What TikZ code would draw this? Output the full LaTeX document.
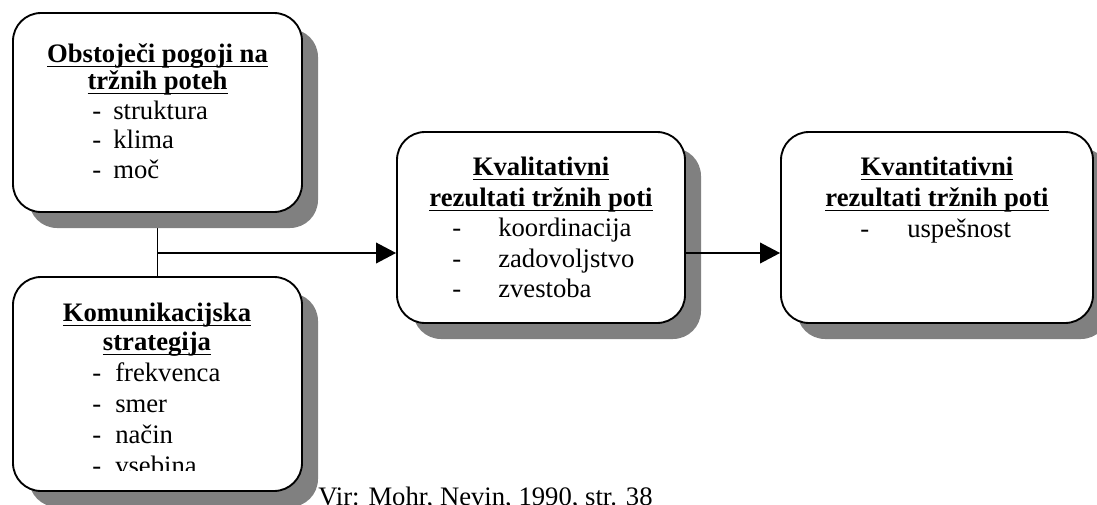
\documentclass[tikz,border=0pt]{standalone}
\usepackage{fontspec}
\setmainfont{Liberation Serif}
\usetikzlibrary{shadows,arrows.meta,backgrounds}
\definecolor{shadowgray}{RGB}{128,128,128}
% underline at a fixed depth below the baseline, through the descenders
\newcommand\ulined[1]{\setbox0\hbox{#1}\rlap{\rule[-4.1pt]{\wd0}{1.4pt}}\box0}

\begin{document}
\begin{tikzpicture}[x=0.75pt,y=-0.75pt,
  panel/.style={draw=black, line width=1.4pt, fill=white, rounded corners=21pt,
    inner sep=0pt,
    drop shadow={shadow xshift=12pt, shadow yshift=-12pt, fill=shadowgray, opacity=1}},
  head/.style={anchor=base, inner sep=0pt, font=\fontsize{20pt}{24pt}\selectfont\bfseries},
  item/.style={anchor=base west, inner sep=0pt, font=\fontsize{20pt}{24pt}\selectfont},
  link/.style={line width=1.1pt},
  flow/.style={link, -{Triangle[length=15pt,width=15.5pt]}}]
\useasboundingbox (0,0) rectangle (1097,504);

% the four panels
\node[panel, minimum width=216.75pt, minimum height=149.25pt] (b1) at (157.5,112.5) {};
\node[panel, minimum width=216.75pt, minimum height=160.5pt]  (b2) at (157.5,384) {};
\node[panel, minimum width=216pt,    minimum height=143.25pt] (b3) at (541,227.5) {};
\node[panel, minimum width=234pt,    minimum height=143.25pt] (b4) at (937,227.5) {};

% joining line between the two input panels
\begin{scope}[on background layer]
  \draw[link] (b1.south) -- (b2.north);
\end{scope}
\coordinate (j) at (157.5,253);
\draw[flow] (j) -- (j -| b3.west);
\draw[flow] (j -| b3.east) -- (j -| b4.west);

% panel 1
\node[head] (h1a) at (157.5,62) {\ulined{Obstoječi pogoji na}};
\node[head] (h1b) at (157.5,89) {\ulined{tržnih poteh}};
\node[item] (d1a) at (92,119) {-};  \node[item] (i1a) at (113,119) {struktura};
\node[item] (d1b) at (92,148) {-};  \node[item] (i1b) at (113,148) {klima};
\node[item] (d1c) at (92,178) {-};  \node[item] (i1c) at (113,178) {moč};

% panel 2, text cut off at the bottom of its frame
\begin{scope}
  \clip (13,277) rectangle (302,470);
  \node[head] (h2a) at (157,321) {\ulined{Komunikacijska}};
  \node[head] (h2b) at (157,350) {\ulined{strategija}};
  \node[item] (d2a) at (92,381) {-};  \node[item] (i2a) at (115,381) {frekvenca};
  \node[item] (d2b) at (92,412) {-};  \node[item] (i2b) at (115,412) {smer};
  \node[item] (d2c) at (92,443) {-};  \node[item] (i2c) at (115,443) {način};
  \node[item] (d2d) at (92,474) {-};  \node[item] (i2d) at (115,474) {vsebina};
\end{scope}

% panel 3
\node[head] (h3a) at (541,175) {\ulined{Kvalitativni}};
\node[head] (h3b) at (541,206) {\ulined{rezultati tržnih poti}};
\node[item] (d3a) at (452,236) {-};  \node[item] (i3a) at (498,236) {koordinacija};
\node[item] (d3b) at (452,267) {-};  \node[item] (i3b) at (498,267) {zadovoljstvo};
\node[item] (d3c) at (452,297) {-};  \node[item] (i3c) at (498,297) {zvestoba};

% panel 4
\node[head] (h4a) at (937,175) {\ulined{Kvantitativni}};
\node[head] (h4b) at (937,206) {\ulined{rezultati tržnih poti}};
\node[item] (d4a) at (860,237) {-};  \node[item] (i4a) at (907,237) {uspešnost};

% source line
\node[item] (src) at (318,505) {Vir: Mohr, Nevin, 1990, str. 38};
\end{tikzpicture}
\end{document}
